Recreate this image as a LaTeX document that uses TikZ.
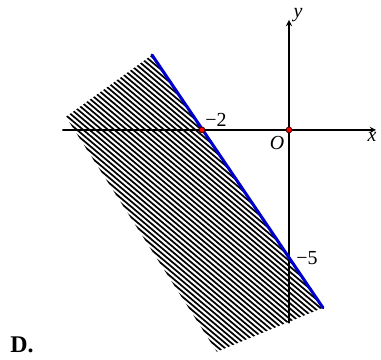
\documentclass[tikz,border=0pt]{standalone}
\usepackage{fontspec}
\setmainfont{Liberation Serif}
\begin{document}
\begin{tikzpicture}[x=1.151cm, y=0.677cm, font=\fontsize{15}{17}\selectfont, line join=round, line cap=round, >=stealth]
		\useasboundingbox (-6.644,-8.984) rectangle (2.115,5.078);
		\coordinate (a) at (-3.15,2.93);
		\coordinate (b) at (-5.13,0.51);
		\coordinate (c) at (-1.66,-8.67);
		\coordinate (d) at (0.78,-6.95);
		\coordinate (xl) at (-5.2,0);
		\coordinate (xr) at (2.0,0);
		\coordinate (yb) at (0,-7.54);
		\coordinate (yt) at (0,4.3);
		\coordinate (o) at (0,0);
		\coordinate (m) at (-2,0);
		\coordinate (n) at (0,-5);
		% hatching of the region
		\begin{scope}
			\clip (a) -- (b) -- (c) -- (d) -- cycle;
			\begin{scope}[x=1cm, y=1cm]
				\foreach \i in {-58,...,-5}
					\draw[line width=1.3pt, line cap=butt] (50:\i*0.106) ++(140:6) -- ++(-40:11);
			\end{scope}
		\end{scope}
		\draw[line width=1.1pt, ->] (xl) -- (xr);
		\draw[line width=1.1pt, ->] (yb) -- (yt);
		\draw[blue!80!black, line width=2.3pt] (a) -- (d);
		\fill[red, draw=black!70!red, line width=0.6pt] (m) circle[radius=2.2pt] (o) circle[radius=2.2pt];
		\node[below, xshift=-3pt, yshift=2pt] (xlab) at (xr) {\textit{x}};
		\node[above right, yshift=-5pt] (ylab) at (yt) {\textit{y}};
		\node[below left, yshift=-1pt] (olab) at (o) {\textit{O}};
		\node[above right, xshift=-1pt, yshift=-1pt] (mlab) at (m) {−2};
		\node[right, xshift=2pt] (nlab) at (n) {−5};
		\node[font=\fontsize{18}{20}\selectfont\bfseries] (dlab) at (-6.14,-8.40) {D.};
	\end{tikzpicture}
\end{document}
